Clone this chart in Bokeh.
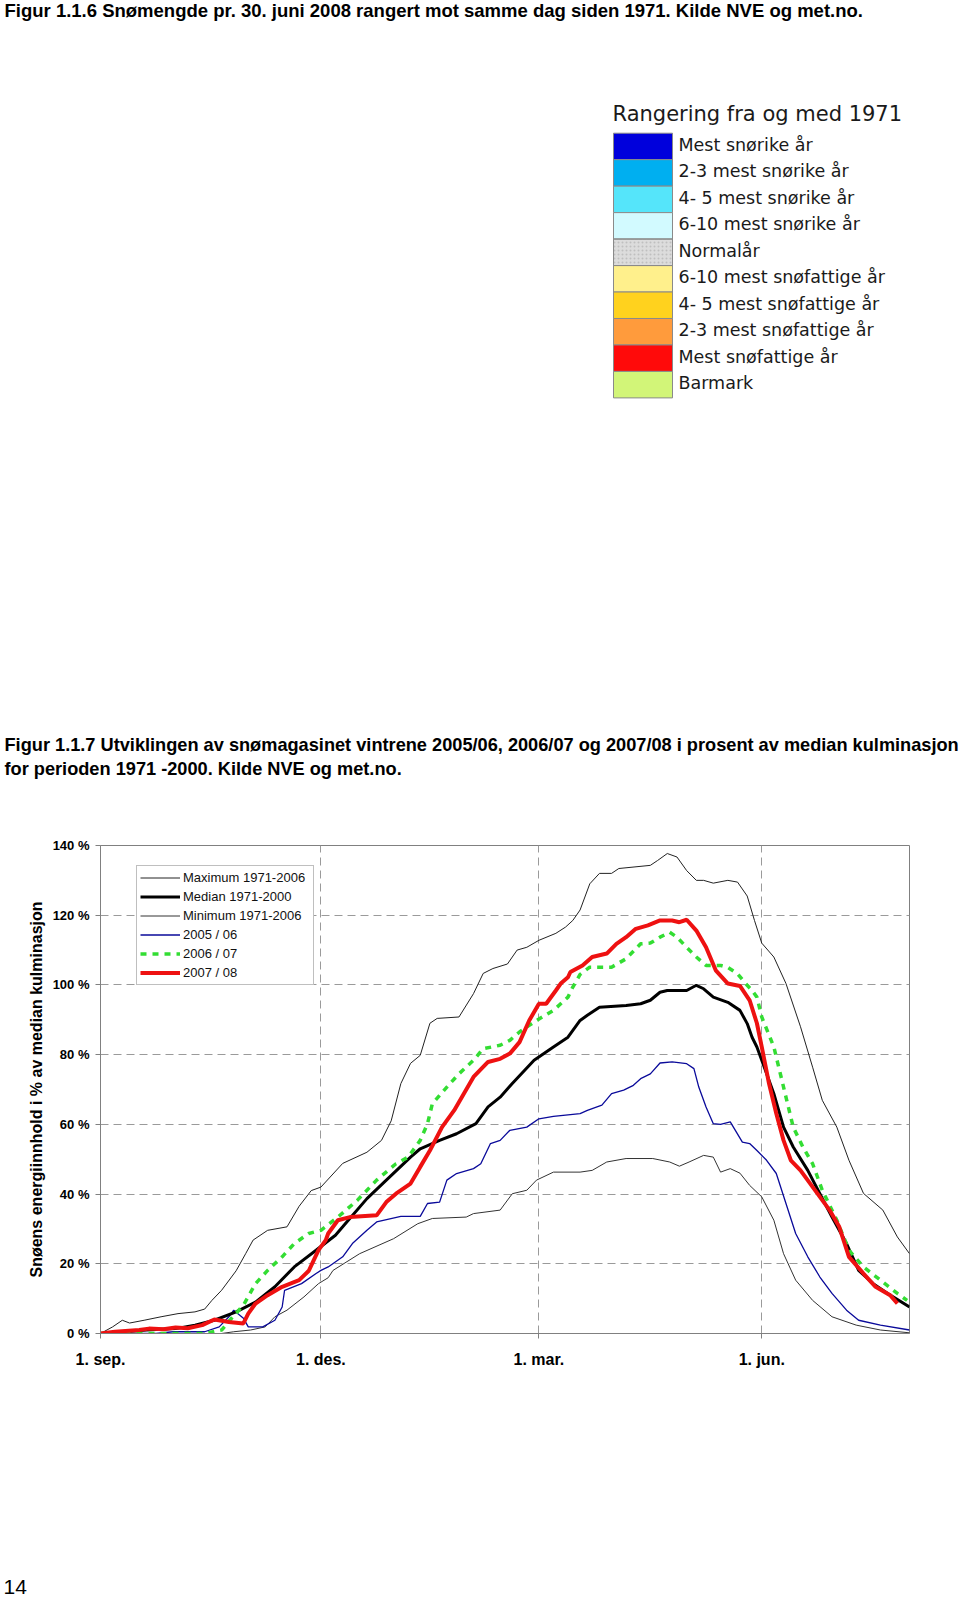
from bokeh.plotting import figure
from bokeh.models import Range1d, Legend, LegendItem, FixedTicker
from bokeh.layouts import column
from bokeh.embed import file_html
from bokeh.resources import INLINE
from bokeh.core.properties import value

# ---------------- data ----------------
TITLE_1 = "Figur 1.1.6 Snømengde pr. 30. juni 2008 rangert mot samme dag siden 1971. Kilde NVE og met.no."
CAPTION_1 = "Figur 1.1.7 Utviklingen av snømagasinet vintrene 2005/06, 2006/07 og 2007/08 i prosent av median kulminasjon"
CAPTION_2 = "for perioden 1971 -2000. Kilde NVE og met.no."
PAGE_NO = "14"

rank_title = "Rangering fra og med 1971"
rank_labels = ["Mest snørike år", "2-3 mest snørike år", "4- 5 mest snørike år",
               "6-10 mest snørike år", "Normalår", "6-10 mest snøfattige år",
               "4- 5 mest snøfattige år", "2-3 mest snøfattige år",
               "Mest snøfattige år", "Barmark"]
rank_colors = ["#0000DC", "#00AFF0", "#55E5FA", "#D2FAFF", "#DCDCDC",
               "#FFF08C", "#FFD21E", "#FF9B3C", "#FF0A0A", "#D2F578"]

x_tick_days = [0, 91, 181, 273]
x_tick_labels = ["1. sep.", "1. des.", "1. mar.", "1. jun."]
y_ticks = [0, 20, 40, 60, 80, 100, 120, 140]
y_label = "Snøens energiinnhold i % av median kulminasjon"

series_names = ["Maximum 1971-2006", "Median 1971-2000", "Minimum 1971-2006",
                "2005 / 06", "2006 / 07", "2007 / 08"]

max_days = [0, 5, 9, 12, 18, 25, 32, 39, 43, 46, 50, 56, 60, 63, 69, 77, 82, 87, 91, 100,
            110, 116, 120, 124, 128, 132, 136, 139, 148, 154, 158, 162, 168, 172, 176, 181,
            188, 192, 195, 198, 202, 206, 211, 214, 227, 230, 234, 238, 242, 246, 249, 253,
            259, 263, 267, 270, 273, 278, 283, 289, 294, 298, 304, 309, 315, 323, 329, 334]
max_vals = [0, 1.9, 3.8, 3.0, 3.8, 4.8, 5.7, 6.2, 7.0, 9.5, 12.4, 18, 23, 26.8, 29.6, 30.6,
            36.5, 41, 42, 48.8, 52, 55.4, 61, 71.7, 77.5, 79.8, 89, 90.4, 90.8, 97.5, 103.3,
            104.7, 106, 110, 110.8, 112.8, 114.8, 116.6, 118.5, 121.5, 129, 132, 132, 133.4,
            134.3, 135.7, 137.7, 136.7, 132.8, 130, 130, 129.2, 130, 129.5, 125.5, 118.5, 112,
            108, 100.4, 88, 76.4, 66.9, 59.2, 49.7, 40.2, 35.4, 27.7, 22.9]

med_days = [0, 19, 31, 39, 47, 56, 64, 72, 80, 89, 97, 100, 110, 118, 128, 132, 140, 147, 155,
            160, 165, 170, 179, 187, 193, 198, 201, 206, 217, 223, 227, 231, 234, 242, 246, 249,
            253, 259, 264, 267, 269, 271, 273, 278, 282, 286, 292, 297, 302, 308, 313, 319, 325, 334]
med_vals = [0, 1, 1.4, 2.4, 3.8, 6.2, 9, 13.4, 19.1, 23.9, 28.2, 30.6, 38.7, 44, 50.6, 53, 55.4,
            57.3, 60.2, 65, 67.8, 71.7, 78.4, 82.2, 85, 89.8, 91.3, 93.6, 94.1, 94.6, 95.6, 97.9,
            98.4, 98.4, 99.9, 98.9, 96.5, 95, 92.7, 88.9, 85, 82.2, 78.4, 68.8, 59.2, 53.5, 46.8,
            40.1, 33.4, 25.8, 18.1, 14.3, 11.5, 7.6]

min_days = [0, 50, 55, 62, 68, 72, 77, 84, 90, 94, 96, 107, 121, 131, 137, 151, 154, 165, 170,
            176, 180, 187, 198, 203, 209, 217, 228, 235, 239, 243, 249, 253, 256, 260, 264, 268,
            273, 278, 282, 287, 294, 302, 312, 322, 334]
min_vals = [0, 0, 0.5, 1, 1.9, 4.8, 6.7, 10.5, 14.3, 16, 18.1, 22.9, 27.2, 31.5, 33, 33.4, 34.4,
            35.4, 40.1, 41.1, 44, 46.3, 46.3, 46.8, 49.2, 50.2, 50.2, 49.2, 48, 49.2, 51.1, 50.6,
            46.3, 47.3, 46, 42.5, 39.2, 32.5, 22.9, 15.3, 9.5, 4.8, 2.4, 1, 0.2]

y0506_days = [0, 23, 30, 43, 49, 53, 55, 59, 61, 67, 72, 75, 76, 83, 89, 91, 94, 100, 104, 110,
              114, 124, 132, 135, 140, 143, 147, 154, 157, 161, 165, 169, 176, 181, 187, 198, 201,
              207, 211, 216, 220, 223, 227, 231, 236, 242, 245, 247, 250, 253, 256, 260, 265, 268,
              271, 275, 279, 283, 287, 292, 297, 302, 308, 313, 322, 334]
y0506_vals = [0, 0, 0.5, 0.5, 1.9, 4.8, 6.7, 4.4, 1.9, 1.9, 3.8, 7.6, 12.4, 14.3, 17.2, 18.1,
              19.1, 22, 25.8, 29.6, 32, 33.6, 33.6, 37.3, 37.7, 44, 45.9, 47.3, 48.7, 54.5, 55.4,
              58.3, 59.2, 61.6, 62.3, 63.1, 64, 65.5, 68.8, 69.8, 71.2, 73.1, 74.5, 77.6, 77.9,
              77.4, 76, 70.7, 65, 60.2, 60, 60.7, 54.9, 54.5, 52.5, 49.7, 45.9, 37.3, 28.7, 22,
              16.2, 11.5, 6.7, 3.8, 2.4, 1]

y0607_days = [0, 43, 50, 54, 59, 64, 69, 75, 80, 86, 91, 98, 106, 114, 122, 127, 132, 135, 137,
              143, 148, 154, 158, 165, 169, 173, 177, 180, 187, 190, 193, 195, 198, 202, 211, 217,
              223, 227, 231, 235, 238, 242, 246, 250, 256, 259, 263, 267, 269, 271, 273, 278, 282,
              286, 290, 294, 298, 304, 309, 315, 322, 329, 333]
y0607_vals = [0, 0, 1, 4.3, 8.1, 14.3, 18.1, 22, 25.8, 28.7, 29.6, 33.4, 38.2, 44, 48.7, 50.6,
              55.4, 60.2, 65.9, 70.7, 74.5, 78.4, 81.7, 82.7, 84.1, 86.5, 88.4, 89.8, 92.7, 94.6,
              96.5, 99.4, 103, 105.1, 105.1, 107.5, 111.8, 112, 113.7, 115.1, 113.7, 110.8, 108,
              105.6, 105.6, 105, 103.2, 99.9, 98.4, 96.5, 90.8, 82.2, 70.7, 59.2, 53.5, 48.7, 41.1,
              32.5, 23.9, 19.1, 15.3, 11.5, 9.5]

y0708_days = [0, 6, 16, 20, 26, 31, 36, 42, 47, 53, 59, 61, 64, 69, 75, 82, 86, 88, 90, 93, 94,
              98, 103, 114, 118, 122, 128, 132, 136, 141, 146, 150, 154, 160, 165, 169, 173, 177,
              181, 184, 188, 190, 193, 194, 199, 203, 209, 213, 217, 221, 226, 231, 236, 239, 242,
              246, 250, 254, 259, 264, 268, 271, 273, 276, 279, 282, 285, 289, 293, 297, 301, 305,
              309, 315, 320, 326, 329]
y0708_vals = [0, 0.5, 1, 1.4, 1.2, 1.7, 1.5, 2.4, 4, 3.3, 2.9, 5.7, 8.6, 11, 13.4, 15.3, 18, 21,
              23.9, 26.8, 28.7, 32.5, 33.4, 33.9, 37.7, 40.1, 43, 47.8, 52.5, 59.2, 64, 68.8, 73.6,
              77.9, 78.8, 80.3, 83.6, 89.8, 94.6, 94.6, 98.4, 100.4, 102.2, 103.7, 105.6, 108, 109,
              111.8, 113.7, 116.1, 117.1, 118.5, 118.5, 118, 118.7, 115.6, 110.8, 104.2, 100.4,
              99.7, 95.6, 89, 82.2, 71.7, 63.1, 55.4, 49.7, 46.8, 43, 39.2, 35.4, 30.6, 22, 17.2,
              13.4, 11, 8.6]

# ---------------- layout constants (page pixels; Bokeh page has no body margin) ----------------
SANS = "Liberation Sans"
WIDE = "DejaVu Sans"
W = 960
HA, HB, HC = 790, 610, 200
TOP_A = 0
TOP_B = TOP_A + HA
TOP_C = TOP_B + HB


def page_fig(top, h):
    f = figure(width=W, height=h, x_range=Range1d(0, W), y_range=Range1d(top + h, top),
               x_axis_type=None, y_axis_type=None, toolbar_location=None,
               output_backend="svg", min_border=0, outline_line_color=None,
               frame_align=False)
    return f


# ---------------- top figure: title + ranking legend + caption ----------------
pa = page_fig(TOP_A, HA)
pa.text(x=[4], y=[10], text=[TITLE_1], text_font=value(SANS), text_font_style="bold",
        text_font_size="18.5px", text_baseline="middle", text_align="left", text_color="black")

sw_left, sw_right, sw_top, row_h = 613, 672, 132.7, 26.47
tops = [sw_top + i * row_h for i in range(len(rank_labels))]
bottoms = [t + row_h for t in tops]
pa.quad(left=[sw_left] * len(tops), right=[sw_right] * len(tops), top=tops, bottom=bottoms,
        fill_color=rank_colors, line_color="#8a8a8a", line_width=1)
ni = rank_labels.index("Normalår")
pa.quad(left=[sw_left], right=[sw_right], top=[tops[ni]], bottom=[bottoms[ni]],
        fill_alpha=0, line_color="#8a8a8a", hatch_pattern="dot", hatch_color="#b8b8b8",
        hatch_scale=4, hatch_alpha=0.8)
pa.text(x=[678] * len(tops), y=[t + row_h / 2 - 1.5 for t in tops], text=rank_labels,
        text_font=value(WIDE), text_font_size="17.5px", text_baseline="middle",
        text_align="left", text_color="#1a1a1a")
pa.text(x=[612], y=[113], text=[rank_title], text_font=value(WIDE), text_font_size="21px",
        text_baseline="middle", text_align="left", text_color="#1a1a1a")

pa.text(x=[4, 4], y=[744, 768], text=[CAPTION_1, CAPTION_2], text_font=value(SANS),
        text_font_style="bold", text_font_size="18.2px", text_baseline="middle",
        text_align="left", text_color="black")

# ---------------- chart figure ----------------
frame_left, frame_right, frame_top, frame_bottom = 100, 909, 845, 1333
pb = figure(width=W, height=HB, x_range=Range1d(0, 334), y_range=Range1d(0, 140),
            toolbar_location=None, output_backend="svg", frame_align=False,
            min_border_left=frame_left, min_border_right=W - frame_right,
            min_border_top=frame_top - TOP_B, min_border_bottom=TOP_B + HB - frame_bottom,
            outline_line_color="#808080", outline_line_width=1)

pb.xaxis.ticker = FixedTicker(ticks=x_tick_days)
pb.xaxis.major_label_overrides = {d: l for d, l in zip(x_tick_days, x_tick_labels)}
pb.yaxis.ticker = FixedTicker(ticks=y_ticks)
pb.yaxis.major_label_overrides = {v: f"{v} %" for v in y_ticks}
for ax in (pb.xaxis, pb.yaxis):
    ax.axis_line_color = "#808080"
    ax.major_tick_line_color = "#808080"
    ax.major_tick_out = 5
    ax.major_tick_in = 0
    ax.minor_tick_line_color = None
    ax.major_label_text_font = SANS
    ax.major_label_text_font_style = "bold"
    ax.major_label_text_color = "black"
pb.xaxis.major_label_text_font_size = "16px"
pb.xaxis.major_label_standoff = 12
pb.yaxis.major_label_text_font_size = "13px"
pb.yaxis.major_label_standoff = 6
pb.yaxis.axis_label = y_label
pb.yaxis.axis_label_text_font = SANS
pb.yaxis.axis_label_text_font_style = "bold"
pb.yaxis.axis_label_text_font_size = "16px"
pb.yaxis.axis_label_text_color = "black"
pb.yaxis.axis_label_standoff = 5

pb.xgrid.ticker = FixedTicker(ticks=x_tick_days[1:])
pb.ygrid.ticker = FixedTicker(ticks=y_ticks[1:-1])
for g in (pb.xgrid, pb.ygrid):
    g.grid_line_color = "#9a9a9a"
    g.grid_line_dash = "8 5"
    g.grid_line_width = 1

r_max = pb.line(max_days, max_vals, line_color="#222222", line_width=1)
r_min = pb.line(min_days, min_vals, line_color="#333333", line_width=1)
r_0506 = pb.line(y0506_days, y0506_vals, line_color="#0a0a9a", line_width=1.3)
r_med = pb.line(med_days, med_vals, line_color="black", line_width=3)
r_0607 = pb.line(y0607_days, y0607_vals, line_color="#33DD33", line_width=3.5, line_dash="6 6")
r_0708 = pb.line(y0708_days, y0708_vals, line_color="#EE1111", line_width=4)

renderers = [r_max, r_med, r_min, r_0506, r_0607, r_0708]
legend = Legend(items=[LegendItem(label=n, renderers=[r]) for n, r in zip(series_names, renderers)],
                location=(36, 348), orientation="vertical", glyph_width=40, glyph_height=17,
                label_height=17, label_width=127, spacing=2, padding=3, margin=0,
                label_standoff=3, border_line_color="#808080", border_line_width=1,
                background_fill_color="white", background_fill_alpha=1,
                label_text_font=SANS, label_text_font_size="13px", label_text_color="#111111")
pb.add_layout(legend)

# ---------------- bottom figure: page number ----------------
pc = page_fig(TOP_C, HC)
pc.text(x=[3], y=[1586], text=[PAGE_NO], text_font=value(SANS), text_font_size="21px",
        text_baseline="middle", text_align="left", text_color="black")

layout = column(pa, pb, pc, spacing=0)
open("out.html", "w").write(file_html(layout, INLINE))
